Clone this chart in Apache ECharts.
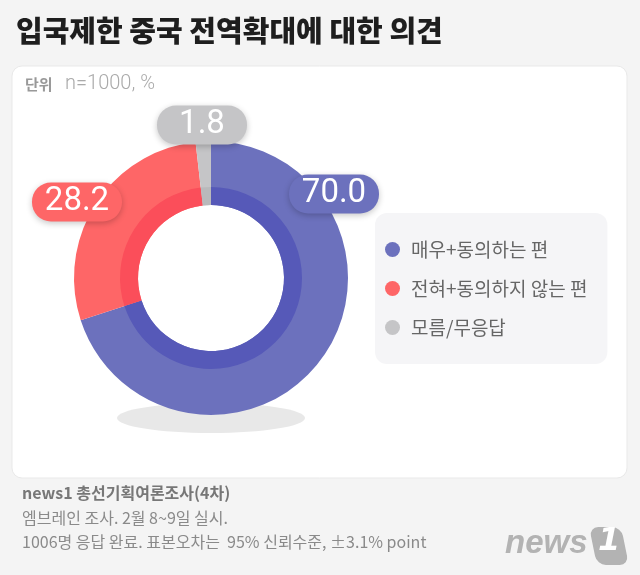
<!DOCTYPE html>
<html><head><meta charset="utf-8">
<script src="https://cdn.jsdelivr.net/npm/echarts@6/dist/echarts.min.js"></script>
<style>html,body{margin:0;padding:0;background:#f4f4f4;}#c{width:640px;height:575px;}</style>
</head><body><div id="c"></div>
<script>
const categories = ['매우+동의하는 편', '전혀+동의하지 않는 편', '모름/무응답'];
const values = [70.0, 28.2, 1.8];
const outerColors = ['#6c71bd', '#fe6667', '#c5c5c7'];
const innerColors = ['#5659b8', '#fb4e5a', '#b9b9bb'];
const title = '입국제한 중국 전역확대에 대한 의견';
const unitLabel = '단위';
const unitText = 'n=1000, %';
const footer = ['news1 총선기획여론조사(4차)', '엠브레인 조사. 2월 8~9일 실시.', '1006명 응답 완료. 표본오차는  95% 신뢰수준, ±3.1% point'];

const KR = '"Noto Sans CJK KR", "Noto Sans", sans-serif';
const chart = echarts.init(document.getElementById('c'), null, {renderer: 'canvas'});
const center = [211, 278];
const labelPos = [[334, 194], [77, 202], [202, 125]];

const outerData = categories.map((n, i) => ({
  name: n, value: values[i], itemStyle: {color: outerColors[i]},
  label: {backgroundColor: outerColors[i]}
}));
const innerData = categories.map((n, i) => ({name: n, value: values[i], itemStyle: {color: innerColors[i]}}));

chart.setOption({
  backgroundColor: '#f4f4f4',
  animation: false,
  graphic: [
    {type: 'rect', z: -10, shape: {x: 12, y: 66, width: 615, height: 412, r: 10}, style: {fill: '#fff', stroke: '#e9e9e9', lineWidth: 1}},
    {type: 'text', left: 16, top: 16, style: {text: title, font: '900 29px ' + KR, fill: '#1e1e1e'}},
    {type: 'text', left: 25, top: 77, style: {text: unitLabel, font: 'bold 15px ' + KR, fill: '#999'}},
    {type: 'text', left: 65, top: 74, style: {text: unitText, font: '300 20px Roboto, sans-serif', fill: '#aaa'}},
    {type: 'ellipse', z: -5, shape: {cx: 211, cy: 418, rx: 94, ry: 15}, style: {fill: '#e8e8e8'}},
    {type: 'text', left: 22, top: 485, style: {text: footer[0], font: 'bold 16px ' + KR, fill: '#777'}},
    {type: 'text', left: 22, top: 510, style: {text: footer[1], font: '16px ' + KR, fill: '#8a8a8a'}},
    {type: 'text', left: 22, top: 534, style: {text: footer[2], font: '16px ' + KR, fill: '#8a8a8a'}},
    {type: 'text', left: 505, top: 527, style: {text: 'news', font: 'italic bold 33px "Liberation Sans", sans-serif', fill: '#b3b3b3'}},
    {type: 'rect', shape: {x: 593, y: 527, width: 32, height: 38, r: 9}, skewX: 0.2, originX: 609, originY: 546, style: {fill: '#b3b3b3'}},
    {type: 'text', left: 598, top: 526, style: {text: '1', font: 'italic 900 32px "DejaVu Sans", sans-serif', fill: '#fff'}}
  ],
  legend: {
    orient: 'vertical', left: 375, top: 213,
    data: categories,
    icon: 'circle', itemWidth: 15, itemHeight: 15, itemGap: 20,
    backgroundColor: '#f5f5f7', borderRadius: 12,
    padding: [27, 20, 27, 10],
    textStyle: {fontFamily: KR, fontSize: 19, color: '#666', padding: [0, 0, 0, 6]},
    selectedMode: false
  },
  series: [
    {
      type: 'pie', center: center, radius: [73, 137], startAngle: 90, clockwise: true,
      silent: true, data: outerData, z: 2,
      label: {
        show: true, position: 'inside', overflow: 'none', formatter: p => p.value.toFixed(1),
        color: '#fff', fontFamily: 'Roboto, sans-serif', fontSize: 33, fontWeight: 400,
        width: 62, align: 'center', padding: [1, 14, 0, 14], borderRadius: 19, lineHeight: 38,
        shadowColor: 'rgba(0,0,0,0.22)', shadowBlur: 6, shadowOffsetY: 2
      },
      labelLine: {show: false},
      labelLayout: p => ({x: labelPos[p.dataIndex][0], y: labelPos[p.dataIndex][1], align: 'center', verticalAlign: 'middle', hideOverlap: false})
    },
    {
      type: 'pie', center: center, radius: [73, 91], startAngle: 90, clockwise: true,
      silent: true, data: innerData, z: 3, label: {show: false}, labelLine: {show: false}
    }
  ]
});
</script></body></html>
